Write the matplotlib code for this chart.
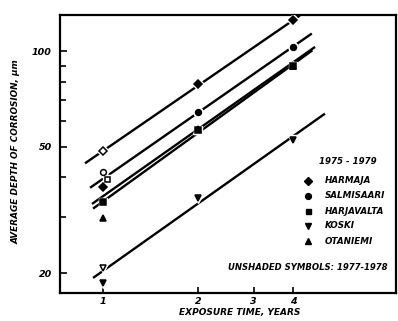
import matplotlib
matplotlib.use('Agg')
from matplotlib import pyplot as plt
from matplotlib.ticker import FixedLocator, NullFormatter

# exposure years
years = [1, 2, 4]

# 1975-1979 exposure (filled symbols), average depth in micrometres
harmaja = [37.2, 78.7, 125]
salmisaari_x = [2, 4]
salmisaari = [64.3, 103]
harjavalta = [33.4, 56.4, 90]
koski = [18.6, 34.5, 52.3]
otaniemi = [29.9, 57, 90]

# 1977-1978 exposure (open symbols), one year only
open_harmaja = 48.5
open_salmisaari = 41.7
open_harjavalta = 39.6
open_koski = 20.7

# fitted lines: start and end points (years, micrometres)
harmaja_fit_x = [0.877, 4.2]
harmaja_fit_y = [44.3, 129.3]
salmisaari_fit_x = [0.91, 4.58]
salmisaari_fit_y = [37.1, 113.5]
harjavalta_fit_x = [0.923, 4.69]
harjavalta_fit_y = [33.0, 103]
otaniemi_fit_x = [0.93, 4.6]
otaniemi_fit_y = [31.9, 100.5]
koski_fit_x = [0.93, 5.04]
koski_fit_y = [19.3, 63.5]

sites = ['HARMAJA', 'SALMISAARI', 'HARJAVALTA', 'KOSKI', 'OTANIEMI']
site_markers = ['D', 'o', 's', 'v', '^']

font = dict(family='DejaVu Sans', weight='bold', style='italic')

fig = plt.figure(figsize=(3.98, 3.21), dpi=100)
ax = fig.add_axes([0.1508, 0.0872, 0.8442, 0.866])
ax.set_xscale('log')
ax.set_yscale('log')
ax.set_xlim(0.731, 8.46)
ax.set_ylim(17.3, 129.8)

lw = 1.7
for fx, fy in [(harmaja_fit_x, harmaja_fit_y), (salmisaari_fit_x, salmisaari_fit_y),
               (harjavalta_fit_x, harjavalta_fit_y), (otaniemi_fit_x, otaniemi_fit_y),
               (koski_fit_x, koski_fit_y)]:
    ax.plot(fx, fy, color='black', lw=lw, solid_capstyle='butt', zorder=2)


def dots(x, y, marker, size, filled=True):
    # white halo first so the line breaks around the symbol
    ax.plot(x, y, ls='none', marker=marker, ms=size + 2.5, mfc='white', mec='white', zorder=3)
    ax.plot(x, y, ls='none', marker=marker, ms=size,
            mfc='black' if filled else 'white', mec='black', mew=1.1, zorder=4)


dots(years, harmaja, 'D', 3.8)
dots(salmisaari_x, salmisaari, 'o', 4.2)
dots(years, harjavalta, 's', 3.8)
dots(years, koski, 'v', 4.6)
dots(years, otaniemi, '^', 4.6)

dots([1], [open_harmaja], 'D', 3.8, filled=False)
dots([1], [open_salmisaari], 'o', 4.2, filled=False)
dots([1.03], [open_harjavalta], 's', 3.6, filled=False)
dots([1], [open_koski], 'v', 4.6, filled=False)

# axes frame and ticks
for s in ax.spines.values():
    s.set_linewidth(1.6)
ax.xaxis.set_major_locator(FixedLocator([1, 2, 3, 4]))
ax.xaxis.set_minor_locator(FixedLocator([]))
ax.set_xticklabels(['1', '2', '3', '4'], fontsize=6.8, **font)
ax.yaxis.set_major_locator(FixedLocator([20, 50, 100]))
ax.yaxis.set_minor_locator(FixedLocator([30, 40, 60, 70, 80, 90]))
ax.yaxis.set_minor_formatter(NullFormatter())
ax.set_yticklabels(['20', '50', '100'], fontsize=6.8, **font)
ax.tick_params(which='both', direction='in', width=1.2, top=False, right=False)
ax.tick_params(axis='x', which='major', length=4, pad=3)
ax.tick_params(axis='y', which='major', length=5, pad=6)
ax.tick_params(axis='y', which='minor', length=4)

fig.text(16 / 398, 1 - 152 / 321, 'AVERAGE DEPTH OF CORROSION, µm', rotation=90,
         ha='center', va='center', fontsize=6.4, **font)
fig.text(240 / 398, 1 - 312 / 321, 'EXPOSURE TIME, YEARS',
         ha='center', va='center', fontsize=6.5, **font)

# key
fig.text(348 / 398, 1 - 162 / 321, '1975 - 1979', ha='center', va='center', fontsize=6.2, **font)
key_y = [181, 196, 211, 226, 241]
for name, m, yp in zip(sites, site_markers, key_y):
    yf = 1 - yp / 321
    ms = 3.6 if m in ('D', 's') else 4.2
    fig.lines.append(plt.Line2D([308 / 398], [yf], transform=fig.transFigure, ls='none',
                                marker=m, ms=ms, mfc='black', mec='black'))
    fig.text(325 / 398, yf, name, ha='left', va='center', fontsize=6.3, **font)
fig.text(308 / 398, 1 - 267 / 321, 'UNSHADED SYMBOLS: 1977-1978', ha='center', va='center',
         fontsize=6.1, **font)

fig.savefig('out.png', dpi=100)
